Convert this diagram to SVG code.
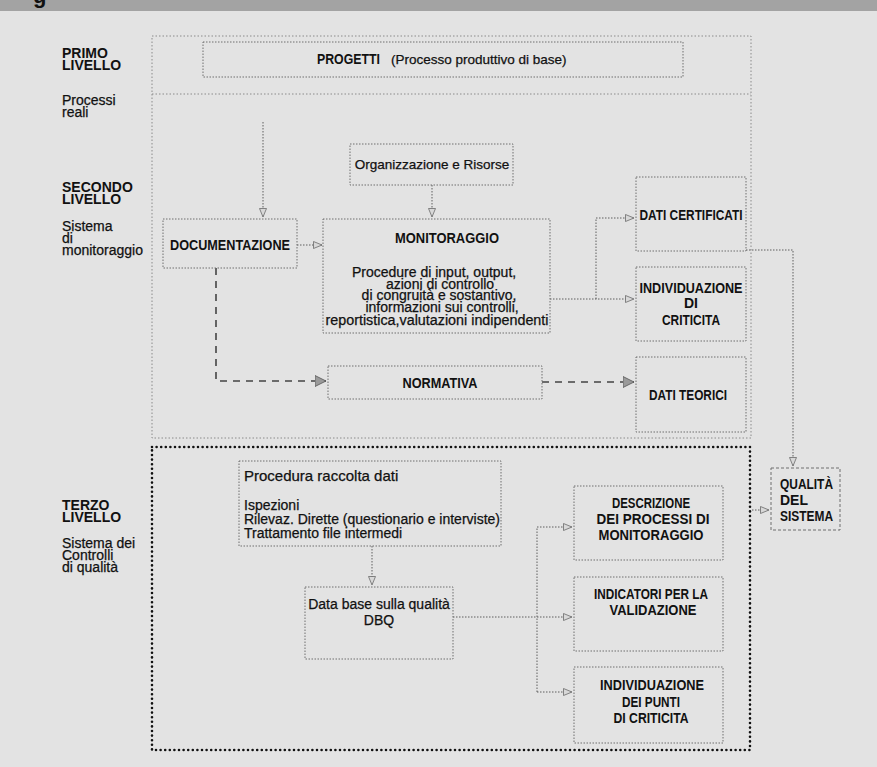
<svg xmlns="http://www.w3.org/2000/svg" width="877" height="767" viewBox="0 0 877 767">
<defs>
<marker id="ao" viewBox="0 0 10 8" refX="9" refY="4" markerWidth="10" markerHeight="8" orient="auto" markerUnits="userSpaceOnUse">
<path d="M0.5,0.5 L9,4 L0.5,7.5 Z" fill="#d8d8d8" stroke="#6a6a6a" stroke-width="0.8"/>
</marker>
<marker id="af" viewBox="0 0 12 12" refX="11.5" refY="6" markerWidth="12" markerHeight="12" orient="auto" markerUnits="userSpaceOnUse">
<path d="M0.5,0.5 L11.5,6 L0.5,11.5 Z" fill="#9a9a9a" stroke="#555" stroke-width="0.8"/>
</marker>
</defs>
<style>
text{font-family:"Liberation Sans",Arial,sans-serif;fill:#111;stroke:#111;stroke-width:0.25}
.lab{font-size:14px;font-weight:bold;stroke-width:0}
.sub{font-size:14px}
.t{font-size:14px}
.cap{font-size:14px;font-weight:bold;stroke-width:0}
.box{fill:none;stroke:#6f6f6f;stroke-width:1;stroke-dasharray:1.5 1.5}
.frame{fill:none;stroke:#8a8a8a;stroke-width:1;stroke-dasharray:1.5 2}
.conn{fill:none;stroke:#5f5f5f;stroke-width:1;stroke-dasharray:1.5 1.5}
.dash{fill:none;stroke:#444;stroke-width:1.6;stroke-dasharray:7 6}
.thick{fill:none;stroke:#111;stroke-width:2.6;stroke-linecap:round;stroke-dasharray:0 4.6}
.qbox{fill:none;stroke:#6f6f6f;stroke-width:1;stroke-dasharray:3 2}
</style>
<rect x="0" y="0" width="877" height="767" fill="#e3e3e3"/>
<rect x="0" y="0" width="877" height="11" fill="#a3a3a3"/>
<text x="33" y="3" style="font-size:22px;font-weight:bold;stroke-width:0">g</text>

<g id="frames">
<path class="frame" d="M152,36 H751 V438 H152 Z"/>
<path class="frame" d="M152,94 H751"/>
<rect class="thick" x="152" y="447" width="598" height="303"/>
</g>

<g id="labels">
<text class="lab" x="62" y="58">PRIMO</text>
<text class="lab" x="62" y="70">LIVELLO</text>
<text class="sub" x="62" y="105">Processi</text>
<text class="sub" x="62" y="117">reali</text>
<text class="lab" x="62" y="192">SECONDO</text>
<text class="lab" x="62" y="204">LIVELLO</text>
<text class="sub" x="62" y="231">Sistema</text>
<text class="sub" x="62" y="243">di</text>
<text class="sub" x="62" y="255">monitoraggio</text>
<text class="lab" x="62" y="510">TERZO</text>
<text class="lab" x="62" y="522">LIVELLO</text>
<text class="sub" x="62" y="548">Sistema dei</text>
<text class="sub" x="62" y="560">Controlli</text>
<text class="sub" x="62" y="572">di qualità</text>
</g>

<g id="connectors">
<path class="conn" d="M263,122 V217" marker-end="url(#ao)"/>
<path class="conn" d="M432,185 V217" marker-end="url(#ao)"/>
<path class="conn" d="M297,245 H322" marker-end="url(#ao)"/>
<path class="conn" d="M550,299 H634" marker-end="url(#ao)"/>
<path class="conn" d="M596,299 V218 H634" marker-end="url(#ao)"/>
<path class="conn" d="M746,250 H793 V466" marker-end="url(#ao)"/>
<path class="conn" d="M752,510 H769" marker-end="url(#ao)"/>
<path class="dash" d="M216,268 V381 H326" marker-end="url(#af)"/>
<path class="dash" d="M542,382 H634" marker-end="url(#af)"/>
<path class="conn" d="M372,546 V585" marker-end="url(#ao)"/>
<path class="conn" d="M453,617 H572" marker-end="url(#ao)"/>
<path class="conn" d="M537,692 V527 H572" marker-end="url(#ao)"/>
<path class="conn" d="M537,692 H572" marker-end="url(#ao)"/>
</g>

<g id="progetti">
<rect class="box" x="203" y="42" width="480" height="35"/>
<text class="t" x="317" y="64"><tspan style="font-weight:bold;stroke-width:0" textLength="63" lengthAdjust="spacingAndGlyphs">PROGETTI</tspan><tspan x="391" style="font-size:13.5px">(Processo produttivo di base)</tspan></text>
</g>

<g id="organizzazione">
<rect class="box" x="350" y="144" width="163" height="41"/>
<text class="t" x="432" y="169" text-anchor="middle" style="font-size:13.5px">Organizzazione e Risorse</text>
</g>

<g id="documentazione">
<rect class="box" x="163" y="219" width="134" height="49"/>
<text class="cap" x="230" y="250" text-anchor="middle" textLength="120" lengthAdjust="spacingAndGlyphs">DOCUMENTAZIONE</text>
</g>

<g id="monitoraggio">
<rect class="box" x="323" y="219" width="227" height="114"/>
<text class="cap" x="447" y="243" text-anchor="middle" textLength="104" lengthAdjust="spacingAndGlyphs">MONITORAGGIO</text>
<text class="sub" text-anchor="middle">
<tspan x="436" y="277">Procedure di input, output,</tspan>
<tspan x="442" y="289">azioni di controllo</tspan>
<tspan x="441" y="300">di congruità e sostantivo,</tspan>
<tspan x="444" y="312">informazioni sui controlli,</tspan>
<tspan x="437" y="325" textLength="223" lengthAdjust="spacingAndGlyphs">reportistica,valutazioni indipendenti</tspan>
</text>
</g>

<g id="dati-certificati">
<rect class="box" x="636" y="177" width="110" height="74"/>
<text class="cap" x="691" y="220" text-anchor="middle" textLength="103" lengthAdjust="spacingAndGlyphs">DATI CERTIFICATI</text>
</g>

<g id="individuazione-criticita">
<rect class="box" x="636" y="267" width="110" height="74"/>
<text class="cap" x="691" y="293" text-anchor="middle" textLength="103" lengthAdjust="spacingAndGlyphs">INDIVIDUAZIONE</text>
<text class="cap" x="691" y="308" text-anchor="middle">DI</text>
<text class="cap" x="691" y="325" text-anchor="middle" textLength="58" lengthAdjust="spacingAndGlyphs">CRITICITA</text>
</g>

<g id="normativa">
<rect class="box" x="328" y="366" width="214" height="33"/>
<text class="cap" x="440" y="388" text-anchor="middle" textLength="75" lengthAdjust="spacingAndGlyphs">NORMATIVA</text>
</g>

<g id="dati-teorici">
<rect class="box" x="636" y="357" width="110" height="75"/>
<text class="cap" x="688" y="400" text-anchor="middle" textLength="78" lengthAdjust="spacingAndGlyphs">DATI TEORICI</text>
</g>

<g id="qualita">
<rect class="qbox" x="771" y="468" width="69" height="62"/>
<text class="cap" x="780" y="489" textLength="53" lengthAdjust="spacingAndGlyphs">QUALITÀ</text>
<text class="cap" x="780" y="505">DEL</text>
<text class="cap" x="780" y="521" textLength="53" lengthAdjust="spacingAndGlyphs">SISTEMA</text>
</g>

<g id="procedura">
<rect class="box" x="239" y="461" width="262" height="85"/>
<text x="244" y="481" style="font-size:15px">Procedura raccolta dati</text>
<text class="t" x="244" y="510">Ispezioni</text>
<text class="t" x="244" y="524">Rilevaz. Dirette (questionario e interviste)</text>
<text class="t" x="244" y="538">Trattamento file intermedi</text>
</g>

<g id="dbq">
<rect class="box" x="305" y="587" width="148" height="72"/>
<text class="t" x="379" y="609" text-anchor="middle">Data base sulla qualità</text>
<text class="t" x="379" y="625" text-anchor="middle">DBQ</text>
</g>

<g id="descrizione">
<rect class="box" x="574" y="486" width="149" height="74"/>
<text class="cap" x="651" y="508" text-anchor="middle" textLength="78" lengthAdjust="spacingAndGlyphs">DESCRIZIONE</text>
<text class="cap" x="653" y="524" text-anchor="middle" textLength="113" lengthAdjust="spacingAndGlyphs">DEI PROCESSI DI</text>
<text class="cap" x="651" y="540" text-anchor="middle" textLength="105" lengthAdjust="spacingAndGlyphs">MONITORAGGIO</text>
</g>

<g id="indicatori">
<rect class="box" x="574" y="577" width="149" height="74"/>
<text class="cap" x="651" y="599" text-anchor="middle" textLength="114" lengthAdjust="spacingAndGlyphs">INDICATORI PER LA</text>
<text class="cap" x="653" y="615" text-anchor="middle" textLength="87" lengthAdjust="spacingAndGlyphs">VALIDAZIONE</text>
</g>

<g id="individuazione-punti">
<rect class="box" x="574" y="667" width="149" height="76"/>
<text class="cap" x="652" y="690" text-anchor="middle" textLength="104" lengthAdjust="spacingAndGlyphs">INDIVIDUAZIONE</text>
<text class="cap" x="651" y="707" text-anchor="middle" textLength="58" lengthAdjust="spacingAndGlyphs">DEI PUNTI</text>
<text class="cap" x="651" y="723" text-anchor="middle" textLength="75" lengthAdjust="spacingAndGlyphs">DI CRITICITA</text>
</g>
</svg>
